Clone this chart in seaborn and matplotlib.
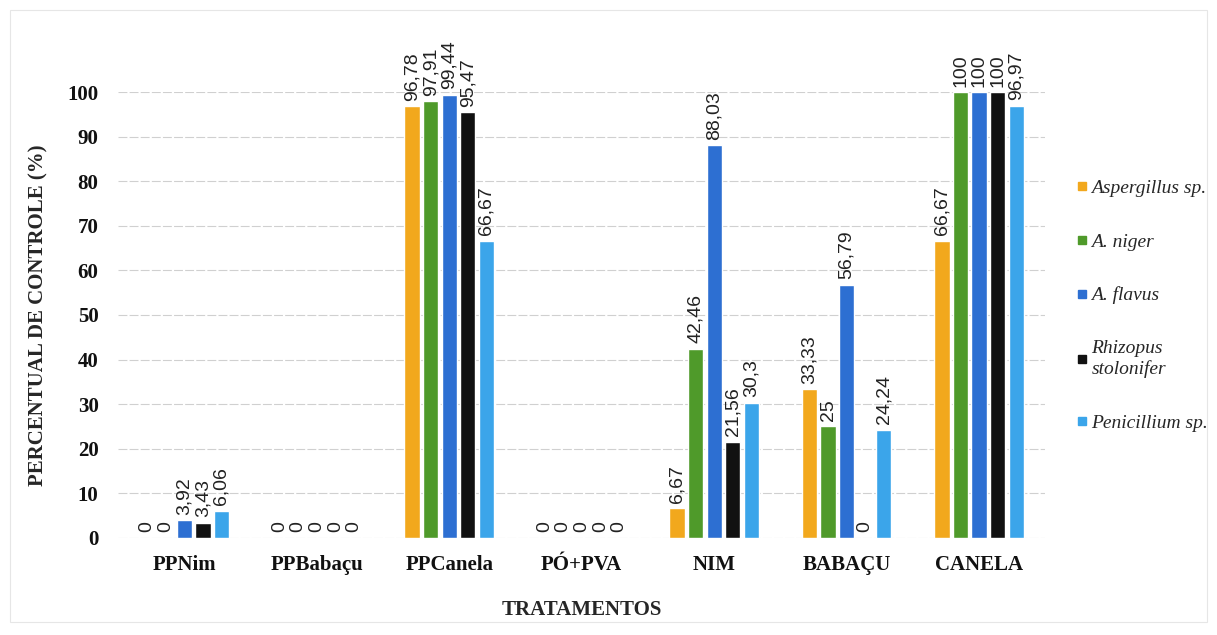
import numpy as np
import pandas as pd
import matplotlib
matplotlib.use("Agg")
import matplotlib.pyplot as plt
from matplotlib.lines import Line2D
import seaborn as sns

# ---------- data ----------
tratamentos = ['PPNim', 'PPBabaçu', 'PPCanela', 'PÓ+PVA', 'NIM', 'BABAÇU', 'CANELA']
fungos = ['Aspergillus sp.', 'A. niger', 'A. flavus', 'Rhizopus\nstolonifer', 'Penicillium sp.']

aspergillus = [0, 0, 96.78, 0, 6.67, 33.33, 66.67]
niger = [0, 0, 97.91, 0, 42.46, 25, 100]
flavus = [3.92, 0, 99.44, 0, 88.03, 56.79, 100]
rhizopus = [3.43, 0, 95.47, 0, 21.56, 0, 100]
penicillium = [6.06, 0, 66.67, 0, 30.3, 24.24, 96.97]

cores = ['#F2A81D', '#4F9A2A', '#2D6FD2', '#111111', '#3BA5EA']

series = [aspergillus, niger, flavus, rhizopus, penicillium]
df = pd.DataFrame({
    'tratamento': np.repeat([tratamentos], len(fungos), axis=0).ravel(),
    'fungo': np.repeat(fungos, len(tratamentos)),
    'valor': np.concatenate(series),
})

# ---------- plot ----------
sns.set_style('white')
plt.rcParams['font.family'] = ['Liberation Serif', 'DejaVu Serif']

fig = plt.figure(figsize=(12.17, 6.35), dpi=100)
ax = fig.add_axes([0.097, 0.153, 0.762, 0.702])

sns.barplot(data=df, x='tratamento', y='valor', hue='fungo', order=tratamentos,
            hue_order=fungos, palette=cores, saturation=1, width=0.7, gap=0.17,
            errorbar=None, ax=ax, legend=False)

for cont in ax.containers:
    labs = [f"{v:g}".replace('.', ',') for v in cont.datavalues]
    ax.bar_label(cont, labels=labs, rotation=90, padding=4, fontsize=14,
                 family='Liberation Sans', color='#222222')

ax.set_ylim(0, 100)
ax.set_yticks(range(0, 101, 10))
ax.grid(axis='y', color='#d0d0d0', linestyle=(0, (8, 2)), linewidth=0.8)
ax.set_axisbelow(True)
for s in ax.spines.values():
    s.set_visible(False)
ax.tick_params(axis='both', length=0, labelsize=15, colors='#111111')
ax.tick_params(axis='y', pad=14)
ax.tick_params(axis='x', pad=12)
for t in ax.get_xticklabels() + ax.get_yticklabels():
    t.set_fontweight('bold')

ax.set_xlabel('TRATAMENTOS', fontsize=15, fontweight='bold', labelpad=18)
ax.set_ylabel('PERCENTUAL DE CONTROLE (%)', fontsize=15, fontweight='bold', labelpad=14)

handles = [Line2D([0], [0], marker='s', linestyle='none', markersize=6,
                  markerfacecolor=c, markeredgecolor=c) for c in cores]
leg = fig.legend(handles, fungos, loc='upper left', bbox_to_anchor=(0.868, 0.745),
                 frameon=False, handletextpad=0.1, handlelength=0.8,
                 labelspacing=1.85, prop={'family': 'Liberation Serif',
                                          'style': 'italic', 'size': 14})

fig.patches.append(plt.Rectangle((0.008, 0.02), 0.984, 0.965, transform=fig.transFigure,
                                 fill=False, edgecolor='#e6e6e6', linewidth=0.8))

fig.savefig('out.png', dpi=100, facecolor='white')
